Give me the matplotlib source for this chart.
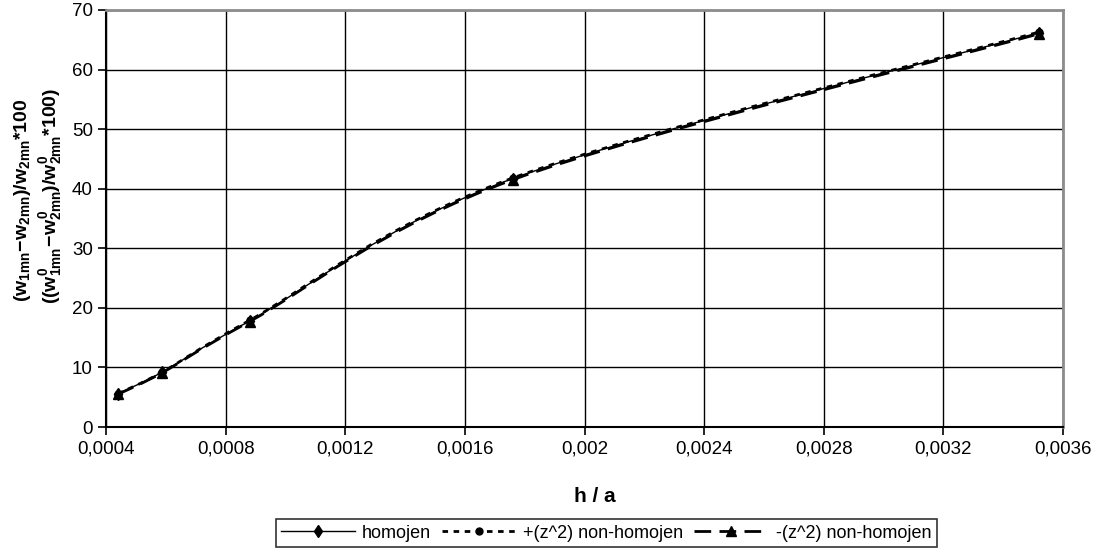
import numpy as np
import matplotlib.pyplot as plt
from matplotlib.path import Path
from matplotlib.patches import PathPatch
from matplotlib.lines import Line2D
from matplotlib.ticker import MultipleLocator, FuncFormatter

plt.rcParams['font.family'] = ['Liberation Sans', 'DejaVu Sans']
plt.rcParams['mathtext.fontset'] = 'custom'
plt.rcParams['mathtext.rm'] = 'Liberation Sans:bold'
plt.rcParams['mathtext.bf'] = 'Liberation Sans:bold'
plt.rcParams['mathtext.it'] = 'Liberation Sans:bold'

# h/a ratios and the relative difference for each case
ha = [0.00044, 0.000587, 0.00088, 0.00176, 0.00352]
homojen = [5.6, 9.2, 17.8, 41.7, 66.2]
plus_z2 = [5.6, 9.2, 17.9, 41.8, 66.3]
minus_z2 = [5.5, 9.1, 17.7, 41.5, 66.0]
names = ['homojen', '+(z^2) non-homojen', '-(z^2) non-homojen']


def smooth_path(x, y):
    # excel-like smoothed line: cubic bezier through the points
    x = np.asarray(x, float)
    y = np.asarray(y, float)
    n = len(x)
    verts = [(x[0], y[0])]
    codes = [Path.MOVETO]
    for i in range(n - 1):
        i0 = max(i - 1, 0)
        i3 = min(i + 2, n - 1)
        c1 = (x[i] + (x[i + 1] - x[i0]) / 6, y[i] + (y[i + 1] - y[i0]) / 6)
        c2 = (x[i + 1] - (x[i3] - x[i]) / 6, y[i + 1] - (y[i3] - y[i]) / 6)
        verts += [c1, c2, (x[i + 1], y[i + 1])]
        codes += [Path.CURVE4] * 3
    return Path(verts, codes)


fig = plt.figure(figsize=(11.02, 5.53), dpi=100)
ax = fig.add_axes([0.0962, 0.2278, 0.8684, 0.7542])

styles = [
    dict(ls='-', lw=1.0, marker='d', ms=6),
    dict(ls=(0, (2, 2)), lw=2.0, marker='o', ms=5),
    dict(ls=(0, (6, 3)), lw=2.0, marker='^', ms=7),
]
series = [homojen, plus_z2, minus_z2]

handles = []
for vals, st, name in zip(series, styles, names):
    patch = PathPatch(smooth_path(ha, vals), fill=False, edgecolor='black',
                      linestyle=st['ls'], linewidth=st['lw'], zorder=3)
    ax.add_patch(patch)
    ax.plot(ha, vals, ls='none', marker=st['marker'], ms=st['ms'],
            color='black', zorder=4)
    handles.append(Line2D([], [], color='black', ls=st['ls'], lw=st['lw'],
                          marker=st['marker'], ms=st['ms']))

ax.set_xlim(0.0004, 0.0036)
ax.set_ylim(0, 70)
ax.xaxis.set_major_locator(MultipleLocator(0.0004))
ax.yaxis.set_major_locator(MultipleLocator(10))
ax.xaxis.set_major_formatter(FuncFormatter(
    lambda v, p: ('%.4f' % v).rstrip('0').replace('.', ',')))
ax.grid(True, color='black', lw=1.0, zorder=0)
ax.set_axisbelow(True)
ax.tick_params(labelsize=13.5, length=6, width=1.2, direction='out', color='black')
for s in ['left', 'bottom']:
    ax.spines[s].set_color('black')
    ax.spines[s].set_linewidth(1.5)
for s in ['top', 'right']:
    ax.spines[s].set_color('#8c8c8c')
    ax.spines[s].set_linewidth(2)

fig.text(595 / 1102, 1 - 497 / 553, 'h / a', ha='center', va='center',
         fontsize=15, fontweight='bold')

fig.text(0.020, 0.638,
         r'$(w_{1mn}\!-\!w_{2mn})/w_{2mn}$*100',
         rotation=90, ha='center', va='center', fontsize=14, fontweight='bold')
fig.text(0.046, 0.645,
         r'$((w^0_{1mn}\!-\!w^0_{2mn})/w^0_{2mn}$*100)',
         rotation=90, ha='center', va='center', fontsize=14, fontweight='bold')

leg = fig.legend(handles, names, loc='center', ncol=3,
                 bbox_to_anchor=(606 / 1102, 1 - 533 / 553),
                 fontsize=13, frameon=True, fancybox=False,
                 handlelength=4.1, handletextpad=0.4, columnspacing=0.6,
                 borderpad=0.3, borderaxespad=0)
leg.get_frame().set_edgecolor('black')
leg.get_frame().set_linewidth(1.2)

fig.savefig('out.png', dpi=100)
